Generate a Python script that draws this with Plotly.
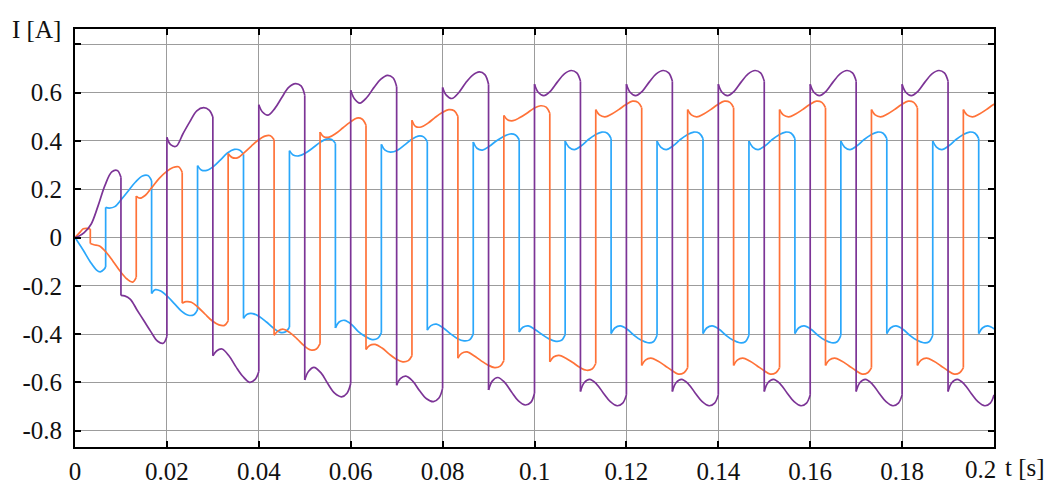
import plotly.graph_objects as go

# ---------------- data ----------------
HALF = 0.01                                   # half period [s]
PHASE = [0, 0.08, 0.2, 0.35, 0.5, 0.65, 0.8, 0.92, 1.0]   # key positions inside a half period

# purple phase
purple_start = [0.00, 0.01, 0.02, 0.03, 0.04, 0.05, 0.06, 0.07, 0.08, 0.09,
                0.10, 0.11, 0.12, 0.13, 0.14, 0.15, 0.16, 0.17, 0.18, 0.19]
purple_segs = [
    [0.0, 0.005, 0.02, 0.055, 0.13, 0.215, 0.272, 0.278, 0.25],
    [-0.24, -0.242, -0.255, -0.30, -0.345, -0.39, -0.43, -0.438, -0.41],
    [0.415, 0.385, 0.378, 0.43, 0.48, 0.525, 0.538, 0.528, 0.50],
    [-0.49, -0.47, -0.462, -0.49, -0.535, -0.575, -0.60, -0.588, -0.555],
    [0.55, 0.52, 0.507, 0.535, 0.58, 0.622, 0.638, 0.628, 0.59],
    [-0.59, -0.555, -0.538, -0.56, -0.605, -0.645, -0.66, -0.645, -0.605],
    [0.61, 0.575, 0.557, 0.58, 0.62, 0.655, 0.672, 0.662, 0.625],
    [-0.612, -0.585, -0.574, -0.595, -0.635, -0.668, -0.68, -0.665, -0.625],
    [0.622, 0.59, 0.576, 0.60, 0.64, 0.672, 0.686, 0.675, 0.635],
    [-0.632, -0.595, -0.58, -0.60, -0.64, -0.677, -0.694, -0.683, -0.645],
    [0.635, 0.602, 0.588, 0.607, 0.645, 0.678, 0.692, 0.682, 0.648],
    [-0.638, -0.602, -0.588, -0.607, -0.645, -0.68, -0.697, -0.686, -0.652],
    [0.635, 0.602, 0.588, 0.607, 0.645, 0.678, 0.692, 0.682, 0.648],
    [-0.638, -0.602, -0.588, -0.607, -0.645, -0.68, -0.697, -0.686, -0.652],
    [0.635, 0.602, 0.588, 0.607, 0.645, 0.678, 0.692, 0.682, 0.648],
    [-0.638, -0.602, -0.588, -0.607, -0.645, -0.68, -0.697, -0.686, -0.652],
    [0.635, 0.602, 0.588, 0.607, 0.645, 0.678, 0.692, 0.682, 0.648],
    [-0.638, -0.602, -0.588, -0.607, -0.645, -0.68, -0.697, -0.686, -0.652],
    [0.635, 0.602, 0.588, 0.607, 0.645, 0.678, 0.692, 0.682, 0.648],
    [-0.638, -0.602, -0.588, -0.607, -0.645, -0.68, -0.697, -0.686, -0.652],
]

# orange phase
orange_head_t = [0.0, 0.001, 0.0018, 0.0027, 0.00333]
orange_head_v = [0.0, 0.02, 0.036, 0.038, 0.035]
orange_start = [0.00333, 0.01333, 0.02333, 0.03333, 0.04333, 0.05333, 0.06333, 0.07333,
                0.08333, 0.09333, 0.10333, 0.11333, 0.12333, 0.13333, 0.14333, 0.15333,
                0.16333, 0.17333, 0.18333, 0.19333]
orange_segs = [
    [-0.025, -0.03, -0.035, -0.062, -0.10, -0.14, -0.172, -0.185, -0.165],
    [0.172, 0.163, 0.175, 0.21, 0.245, 0.272, 0.29, 0.293, 0.27],
    [-0.272, -0.266, -0.268, -0.29, -0.318, -0.345, -0.362, -0.364, -0.345],
    [0.348, 0.332, 0.33, 0.352, 0.378, 0.403, 0.42, 0.422, 0.405],
    [-0.405, -0.388, -0.38, -0.395, -0.42, -0.448, -0.466, -0.462, -0.44],
    [0.437, 0.418, 0.416, 0.432, 0.455, 0.477, 0.495, 0.49, 0.465],
    [-0.464, -0.447, -0.443, -0.458, -0.482, -0.503, -0.515, -0.51, -0.49],
    [0.486, 0.46, 0.458, 0.474, 0.497, 0.517, 0.53, 0.525, 0.502],
    [-0.50, -0.48, -0.474, -0.49, -0.51, -0.528, -0.539, -0.533, -0.51],
    [0.506, 0.488, 0.484, 0.497, 0.515, 0.535, 0.546, 0.54, 0.515],
    [-0.515, -0.495, -0.488, -0.50, -0.518, -0.538, -0.55, -0.545, -0.522],
    [0.53, 0.508, 0.50, 0.512, 0.53, 0.55, 0.565, 0.56, 0.538],
    [-0.53, -0.508, -0.50, -0.512, -0.53, -0.55, -0.566, -0.56, -0.54],
    [0.53, 0.508, 0.50, 0.512, 0.53, 0.55, 0.565, 0.56, 0.538],
    [-0.53, -0.508, -0.50, -0.512, -0.53, -0.55, -0.566, -0.56, -0.54],
    [0.53, 0.508, 0.50, 0.512, 0.53, 0.55, 0.565, 0.56, 0.538],
    [-0.53, -0.508, -0.50, -0.512, -0.53, -0.55, -0.566, -0.56, -0.54],
    [0.53, 0.508, 0.50, 0.512, 0.53, 0.55, 0.565, 0.56, 0.538],
    [-0.53, -0.508, -0.50, -0.512, -0.53, -0.55, -0.566, -0.56, -0.54],
    [0.53, 0.508, 0.50, 0.512, 0.53, 0.55, 0.565, 0.56, 0.538],
]

# blue phase
blue_head_t = [0.0, 0.0018, 0.0033, 0.0047, 0.0055, 0.0063, 0.00667]
blue_head_v = [0.0, -0.053, -0.10, -0.135, -0.142, -0.132, -0.122]
blue_start = [0.00667, 0.01667, 0.02667, 0.03667, 0.04667, 0.05667, 0.06667, 0.07667,
              0.08667, 0.09667, 0.10667, 0.11667, 0.12667, 0.13667, 0.14667, 0.15667,
              0.16667, 0.17667, 0.18667, 0.19667]
blue_segs = [
    [0.125, 0.122, 0.128, 0.16, 0.195, 0.23, 0.255, 0.257, 0.235],
    [-0.232, -0.216, -0.222, -0.245, -0.275, -0.305, -0.322, -0.32, -0.30],
    [0.298, 0.28, 0.278, 0.295, 0.322, 0.35, 0.365, 0.362, 0.345],
    [-0.335, -0.318, -0.315, -0.328, -0.35, -0.375, -0.393, -0.39, -0.372],
    [0.36, 0.342, 0.338, 0.35, 0.37, 0.392, 0.408, 0.406, 0.39],
    [-0.375, -0.35, -0.343, -0.36, -0.39, -0.41, -0.423, -0.418, -0.395],
    [0.386, 0.362, 0.354, 0.362, 0.383, 0.405, 0.42, 0.417, 0.398],
    [-0.384, -0.365, -0.359, -0.375, -0.398, -0.418, -0.428, -0.424, -0.40],
    [0.396, 0.37, 0.362, 0.378, 0.40, 0.418, 0.429, 0.425, 0.405],
    [-0.392, -0.372, -0.366, -0.382, -0.402, -0.42, -0.43, -0.426, -0.402],
    [0.40, 0.375, 0.364, 0.38, 0.405, 0.425, 0.437, 0.432, 0.41],
    [-0.398, -0.375, -0.366, -0.38, -0.405, -0.425, -0.436, -0.432, -0.405],
    [0.40, 0.375, 0.364, 0.38, 0.405, 0.425, 0.437, 0.432, 0.41],
    [-0.398, -0.375, -0.366, -0.38, -0.405, -0.425, -0.436, -0.432, -0.405],
    [0.40, 0.375, 0.364, 0.38, 0.405, 0.425, 0.437, 0.432, 0.41],
    [-0.398, -0.375, -0.366, -0.38, -0.405, -0.425, -0.436, -0.432, -0.405],
    [0.40, 0.375, 0.364, 0.38, 0.405, 0.425, 0.437, 0.432, 0.41],
    [-0.398, -0.375, -0.366, -0.38, -0.405, -0.425, -0.436, -0.432, -0.405],
    [0.40, 0.375, 0.364, 0.38, 0.405, 0.425, 0.437, 0.432, 0.41],
    [-0.398, -0.375, -0.366, -0.38, -0.405, -0.425, -0.436, -0.432, -0.405],
]

x_ticks = [0, 0.02, 0.04, 0.06, 0.08, 0.10, 0.12, 0.14, 0.16, 0.18, 0.20]
x_labels = ["0", "0.02", "0.04", "0.06", "0.08", "0.1", "0.12", "0.14", "0.16", "0.18", "0.2"]
y_ticks = [-0.8, -0.6, -0.4, -0.2, 0, 0.2, 0.4, 0.6, 0.8]
y_labels = ["-0.8", "-0.6", "-0.4", "-0.2", "0", "0.2", "0.4", "0.6", ""]

COLORS = {"blue": "#2aa7fb", "orange": "#ff7238", "purple": "#7c3496"}


def build(starts, segs, head_t=None, head_v=None):
    sx, sy, jx, jy = [], [], [], []
    prev_end = None
    if head_t:
        sx += list(head_t) + [None]
        sy += list(head_v) + [None]
        prev_end = (head_t[-1], head_v[-1])
    for t0, vals in zip(starts, segs):
        xs = [t0 + p * HALF for p in PHASE]
        if prev_end is not None:
            jx += [prev_end[0], t0, None]
            jy += [prev_end[1], vals[0], None]
        sx += xs + [None]
        sy += list(vals) + [None]
        prev_end = (xs[-1], vals[-1])
    return sx, sy, jx, jy


fig = go.Figure()
series = [
    ("blue", blue_start, blue_segs, blue_head_t, blue_head_v),
    ("orange", orange_start, orange_segs, orange_head_t, orange_head_v),
    ("purple", purple_start, purple_segs, None, None),
]
for name, st, sg, ht, hv in series:
    sx, sy, jx, jy = build(st, sg, ht, hv)
    fig.add_trace(go.Scatter(x=sx, y=sy, mode="lines", connectgaps=False,
                             line=dict(color=COLORS[name], width=1.7, shape="spline", smoothing=1.0),
                             showlegend=False, hoverinfo="skip"))
    fig.add_trace(go.Scatter(x=jx, y=jy, mode="lines", connectgaps=False,
                             line=dict(color=COLORS[name], width=1.7),
                             showlegend=False, hoverinfo="skip"))

FONT = dict(family="Liberation Serif", size=25, color="#111111")
axis_common = dict(showgrid=True, gridcolor="#9c9c9c", gridwidth=1.3,
                   ticks="inside", ticklen=6, tickwidth=1.5, tickcolor="#000000",
                   showline=True, linecolor="#000000", linewidth=2, mirror="ticks",
                   zeroline=False, tickfont=FONT, automargin=False)

# last x label is drawn separately (shifted left of its tick, as in the reference)
x_labels_axis = x_labels[:-1] + [""]
fig.update_xaxes(range=[0, 0.2], tickmode="array", tickvals=x_ticks, ticktext=x_labels_axis,
                 ticklabelstandoff=1, **axis_common)
fig.update_yaxes(range=[-0.868, 0.864], tickmode="array", tickvals=y_ticks, ticktext=y_labels,
                 ticklabelstandoff=6, **axis_common)

fig.add_annotation(text=x_labels[-1], x=x_ticks[-1], xref="x", xanchor="right", xshift=3,
                   y=0, yref="paper", yanchor="middle", yshift=-22, borderpad=0,
                   showarrow=False, font=FONT)
fig.add_annotation(text="I [A]", x=0, xref="paper", xanchor="right", xshift=-12,
                   y=1, yref="paper", yanchor="middle", yshift=0,
                   showarrow=False, font=FONT)
fig.add_annotation(text="t [s]", x=1, xref="paper", xanchor="left", xshift=9,
                   y=0, yref="paper", yanchor="middle", yshift=-20,
                   showarrow=False, font=FONT)

fig.update_layout(width=1052, height=485, margin=dict(l=75, r=58, t=29, b=38, autoexpand=False),
                  plot_bgcolor="white", paper_bgcolor="white", showlegend=False)

fig.write_html("out.html")
